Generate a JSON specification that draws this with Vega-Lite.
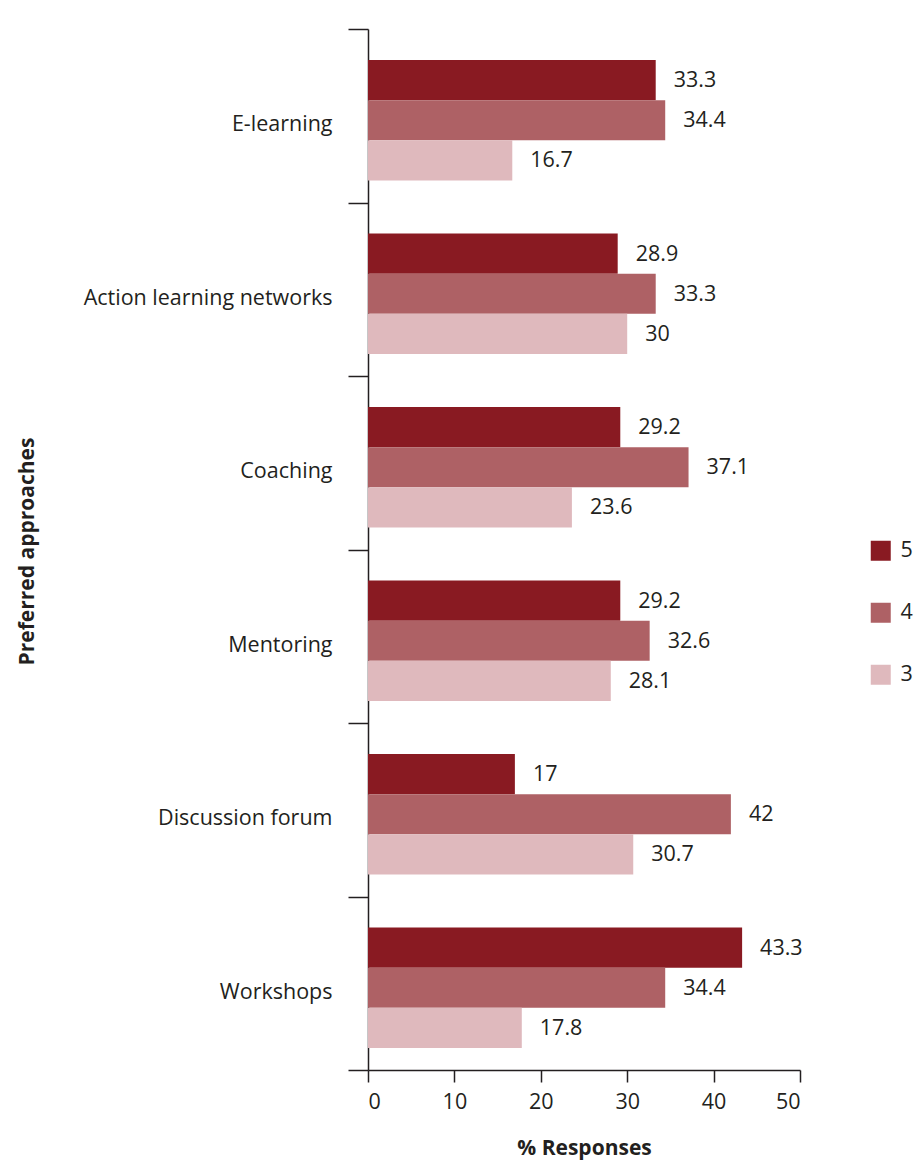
{
  "$schema": "https://vega.github.io/schema/vega-lite/v6.json",
  "autosize": {"type": "none"},
  "width": 432,
  "height": 1041,
  "padding": {"left": 368, "top": 29, "right": 118, "bottom": 101},
  "background": "white",
  "config": {
    "view": {"stroke": null},
    "font": "Open Sans",
    "text": {"font": "Open Sans"}
  },
  "data": {
    "values": [
      {"approach": "E-learning", "level": "5", "value": 33.3},
      {"approach": "E-learning", "level": "4", "value": 34.4},
      {"approach": "E-learning", "level": "3", "value": 16.7},
      {"approach": "Action learning networks", "level": "5", "value": 28.9},
      {"approach": "Action learning networks", "level": "4", "value": 33.3},
      {"approach": "Action learning networks", "level": "3", "value": 30},
      {"approach": "Coaching", "level": "5", "value": 29.2},
      {"approach": "Coaching", "level": "4", "value": 37.1},
      {"approach": "Coaching", "level": "3", "value": 23.6},
      {"approach": "Mentoring", "level": "5", "value": 29.2},
      {"approach": "Mentoring", "level": "4", "value": 32.6},
      {"approach": "Mentoring", "level": "3", "value": 28.1},
      {"approach": "Discussion forum", "level": "5", "value": 17},
      {"approach": "Discussion forum", "level": "4", "value": 42},
      {"approach": "Discussion forum", "level": "3", "value": 30.7},
      {"approach": "Workshops", "level": "5", "value": 43.3},
      {"approach": "Workshops", "level": "4", "value": 34.4},
      {"approach": "Workshops", "level": "3", "value": 17.8}
    ]
  },
  "encoding": {
    "y": {
      "field": "approach",
      "type": "nominal",
      "sort": ["E-learning", "Action learning networks", "Coaching", "Mentoring", "Discussion forum", "Workshops"],
      "scale": {"paddingInner": 0, "paddingOuter": 0},
      "axis": {
        "title": "Preferred approaches",
        "titleFontSize": 21,
        "titleFontWeight": "bold",
        "titleColor": "#231f20",
        "titleX": -331,
        "titleY": 522,
        "tickBand": "extent",
        "tickSize": 20,
        "tickWidth": 1.5,
        "tickColor": "#231f20",
        "domainColor": "#231f20",
        "domainWidth": 1.5,
        "labelFontSize": 21.5,
        "labelColor": "#231f20",
        "labelPadding": 16,
        "labelLimit": 400,
        "labelOffset": 9
      }
    },
    "yOffset": {
      "field": "level",
      "type": "nominal",
      "sort": ["5", "4", "3"],
      "scale": {"paddingInner": 0, "paddingOuter": 0.6625, "align": 0.585}
    },
    "x": {
      "field": "value",
      "type": "quantitative",
      "scale": {"domain": [0, 50], "nice": false},
      "axis": {
        "title": "% Responses",
        "titleFontSize": 21,
        "titleFontWeight": "bold",
        "titleColor": "#231f20",
        "titlePadding": 25,
        "values": [0, 10, 20, 30, 40, 50],
        "grid": false,
        "tickSize": 12,
        "tickWidth": 1.5,
        "tickColor": "#231f20",
        "domainColor": "#231f20",
        "domainWidth": 1.5,
        "labelFontSize": 21.5,
        "labelColor": "#231f20",
        "labelPadding": 9
      }
    }
  },
  "layer": [
    {
      "mark": {"type": "bar"},
      "encoding": {
        "color": {
          "field": "level",
          "type": "nominal",
          "sort": ["5", "4", "3"],
          "scale": {"domain": ["5", "4", "3"], "range": ["#891a22", "#ae6165", "#dfb9bd"]},
          "legend": {
            "title": null,
            "orient": "none",
            "legendX": 502,
            "legendY": 511,
            "symbolType": "square",
            "symbolSize": 400,
            "symbolStrokeWidth": 0,
            "rowPadding": 39,
            "labelFontSize": 21.5,
            "labelColor": "#231f20",
            "labelOffset": 9
          }
        }
      }
    },
    {
      "mark": {"type": "text", "align": "left", "baseline": "middle", "dx": 18, "dy": 1, "fontSize": 21.5, "color": "#231f20"},
      "encoding": {
        "text": {"field": "value", "type": "quantitative"}
      }
    }
  ]
}
